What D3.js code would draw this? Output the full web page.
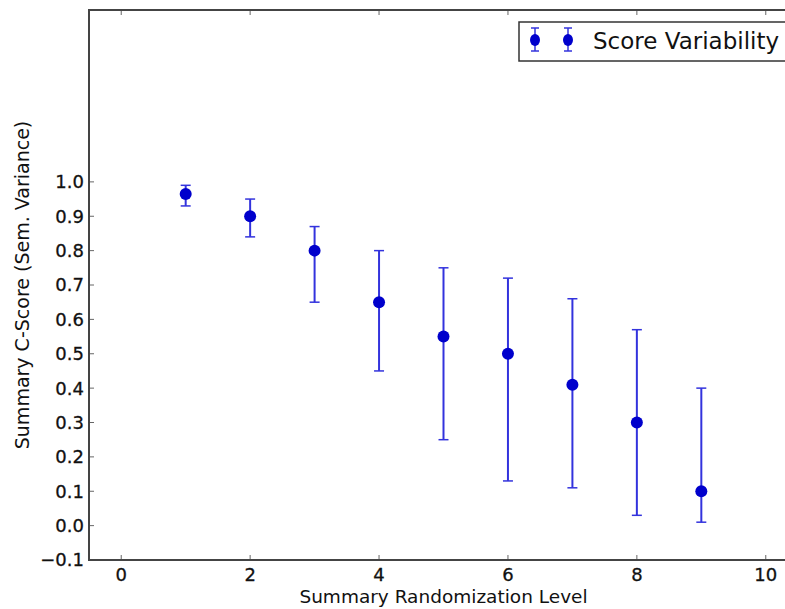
<!DOCTYPE html>
<html>
<head>
<meta charset="utf-8">
<script src="https://cdn.jsdelivr.net/npm/d3@7"></script>
<style>
  html, body { margin: 0; padding: 0; background: #fff; }
  svg { display: block; font-family: "DejaVu Sans", sans-serif; }
</style>
</head>
<body>
<svg id="chart" width="785" height="609"></svg>
<script>
// ---- data ----
const levels = [1, 2, 3, 4, 5, 6, 7, 8, 9];
const means  = [0.965, 0.90, 0.80, 0.65, 0.55, 0.50, 0.41, 0.30, 0.10];
const upper  = [0.99, 0.95, 0.87, 0.80, 0.75, 0.72, 0.66, 0.57, 0.40];
const lower  = [0.93, 0.84, 0.65, 0.45, 0.25, 0.13, 0.11, 0.03, 0.01];
const xTicks = [0, 2, 4, 6, 8, 10];
const yTicks = [-0.1, 0.0, 0.1, 0.2, 0.3, 0.4, 0.5, 0.6, 0.7, 0.8, 0.9, 1.0];
const seriesName = "Score Variability";
const xLabel = "Summary Randomization Level";
const yLabel = "Summary C-Score (Sem. Variance)";

// ---- layout ----
const svg = d3.select("#chart");
const pL = 89, pR = 798, pT = 10, pB = 560;
const x = d3.scaleLinear().domain([-0.5, 10.5]).range([pL, pR]);
const y = d3.scaleLinear().domain([-0.1, 1.5]).range([pB, pT]);

const spineColor = "#444";
const barColor = "#3333dd";
const dotColor = "#0000cc";

// ticks (inward)
const tickLen = 5;
const gTicks = svg.append("g").attr("stroke", "#666").attr("stroke-width", 1);
xTicks.forEach(t => {
  gTicks.append("line").attr("x1", x(t)).attr("x2", x(t)).attr("y1", pB).attr("y2", pB - tickLen);
  gTicks.append("line").attr("x1", x(t)).attr("x2", x(t)).attr("y1", pT).attr("y2", pT + tickLen);
});
yTicks.forEach(t => {
  gTicks.append("line").attr("x1", pL).attr("x2", pL + tickLen).attr("y1", y(t)).attr("y2", y(t));
});

// tick labels
const fmt = d3.format(".1f");
svg.append("g").selectAll("text").data(xTicks).join("text")
  .attr("x", d => x(d)).attr("y", 581)
  .attr("text-anchor", "middle").attr("font-size", 18).attr("fill", "#111")
  .attr("stroke", "#111").attr("stroke-width", 0.3)
  .text(d => d);
svg.append("g").selectAll("text").data(yTicks).join("text")
  .attr("x", 84).attr("y", d => y(d)).attr("dy", "0.36em")
  .attr("text-anchor", "end").attr("font-size", 18).attr("fill", "#111")
  .attr("stroke", "#111").attr("stroke-width", 0.3)
  .text(d => fmt(d).replace("-", "\u2212"));

// error bars
const capW = 5;
const gErr = svg.append("g").attr("stroke", barColor).attr("stroke-width", 2);
levels.forEach((lv, i) => {
  gErr.append("line").attr("x1", x(lv)).attr("x2", x(lv)).attr("y1", y(lower[i])).attr("y2", y(upper[i]));
  gErr.append("line").attr("x1", x(lv) - capW).attr("x2", x(lv) + capW).attr("y1", y(lower[i])).attr("y2", y(lower[i])).attr("stroke-width", 1.5);
  gErr.append("line").attr("x1", x(lv) - capW).attr("x2", x(lv) + capW).attr("y1", y(upper[i])).attr("y2", y(upper[i])).attr("stroke-width", 1.5);
});
svg.append("g").selectAll("circle").data(levels).join("circle")
  .attr("cx", d => x(d)).attr("cy", (d, i) => y(means[i])).attr("r", 6)
  .attr("fill", dotColor);

// spines
svg.append("rect").attr("x", pL).attr("y", pT).attr("width", pR - pL).attr("height", pB - pT)
  .attr("fill", "none").attr("stroke", spineColor).attr("stroke-width", 2);

// legend
const lg = svg.append("g");
lg.append("rect").attr("x", 519).attr("y", 22).attr("width", 280).attr("height", 39)
  .attr("fill", "#fff").attr("stroke", "#333").attr("stroke-width", 1.5);
[535, 568].forEach(cx => {
  lg.append("line").attr("x1", cx).attr("x2", cx).attr("y1", 28).attr("y2", 51).attr("stroke", barColor).attr("stroke-width", 1.5);
  lg.append("line").attr("x1", cx - 4).attr("x2", cx + 4).attr("y1", 28).attr("y2", 28).attr("stroke", barColor).attr("stroke-width", 1.5);
  lg.append("line").attr("x1", cx - 4).attr("x2", cx + 4).attr("y1", 51).attr("y2", 51).attr("stroke", barColor).attr("stroke-width", 1.5);
  lg.append("ellipse").attr("cx", cx).attr("cy", 40).attr("rx", 5).attr("ry", 6).attr("fill", dotColor);
});
lg.append("text").attr("x", 593).attr("y", 49).attr("font-size", 23).attr("fill", "#111").text(seriesName);

// axis labels
svg.append("text").attr("x", (pL + pR) / 2).attr("y", 603).attr("text-anchor", "middle")
  .attr("font-size", 18.5).attr("fill", "#111").text(xLabel);
svg.append("text").attr("transform", `translate(29, ${(pT + pB) / 2}) rotate(-90)`)
  .attr("text-anchor", "middle").attr("font-size", 19).attr("fill", "#111").text(yLabel);
</script>
</body>
</html>
